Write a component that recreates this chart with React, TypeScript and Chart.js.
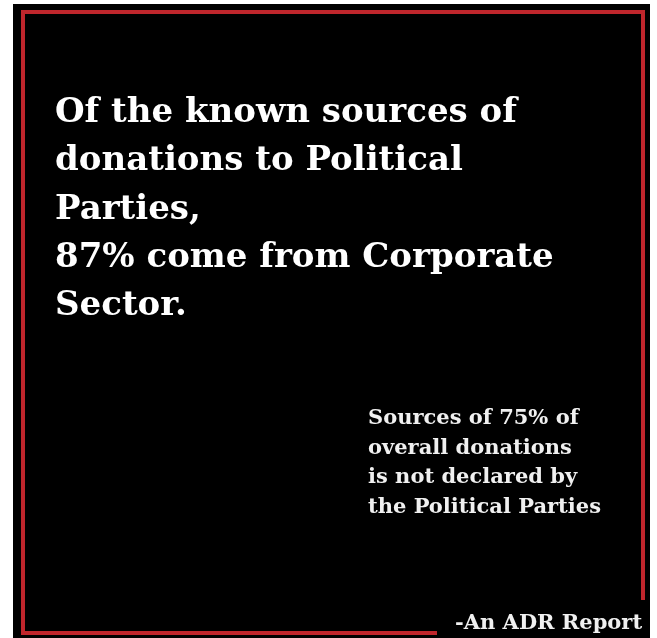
import React, { useEffect, useRef } from "react";
import { Chart, registerables } from "chart.js";

Chart.register(...registerables);

const headlineLines = [
  "Of the known sources of",
  "donations to Political",
  "Parties,",
  "87% come from Corporate",
  "Sector.",
];
const noteLines = [
  "Sources of 75% of",
  "overall donations",
  "is not declared by",
  "the Political Parties",
];
const footerText = "-An ADR Report";

const FONT = "'DejaVu Serif', 'Liberation Serif', serif";

const framePlugin = {
  id: "frame",
  beforeDraw(chart: any) {
    const ctx = chart.ctx;
    ctx.save();
    ctx.fillStyle = "#ffffff";
    ctx.fillRect(0, 0, chart.width, chart.height);
    ctx.fillStyle = "#000000";
    ctx.fillRect(13, 4, 637, 640);
    ctx.strokeStyle = "#c0262c";
    ctx.lineWidth = 4;
    ctx.strokeRect(23, 12, 620, 621);
    ctx.restore();
  },
  afterDraw(chart: any) {
    const ctx = chart.ctx;
    ctx.save();
    ctx.fillStyle = "#000000";
    ctx.fillRect(437, 600, 213, 40);
    ctx.fillStyle = "#f0f0f0";
    ctx.textBaseline = "alphabetic";
    ctx.textAlign = "left";
    ctx.font = `bold 21px ${FONT}`;
    noteLines.forEach((l, i) => ctx.fillText(l, 368, 424 + i * 29.5));
    ctx.font = `bold 21px ${FONT}`;
    ctx.fillText(footerText, 455, 629);
    ctx.restore();
  },
};

export default function App() {
  const ref = useRef<HTMLCanvasElement | null>(null);
  useEffect(() => {
    document.body.style.margin = "0";
    const chart = new Chart(ref.current!, {
      type: "bar",
      data: { labels: [], datasets: [] },
      plugins: [framePlugin],
      options: {
        animation: false,
        responsive: true,
        maintainAspectRatio: false,
        layout: { padding: { left: 55, top: 0, right: 0, bottom: 0 } },
        scales: { x: { display: false }, y: { display: false } },
        plugins: {
          legend: { display: false },
          tooltip: { enabled: false },
          title: {
            display: true,
            text: headlineLines,
            align: "start",
            color: "#ffffff",
            padding: { top: 89, bottom: 0 },
            font: { family: FONT, size: 34, weight: "bold", lineHeight: 1.42 },
          },
        },
      },
    });
    return () => chart.destroy();
  }, []);
  return (
    <div style={{ position: "relative", width: 657, height: 638, background: "#fff" }}>
      <canvas ref={ref} />
    </div>
  );
}
